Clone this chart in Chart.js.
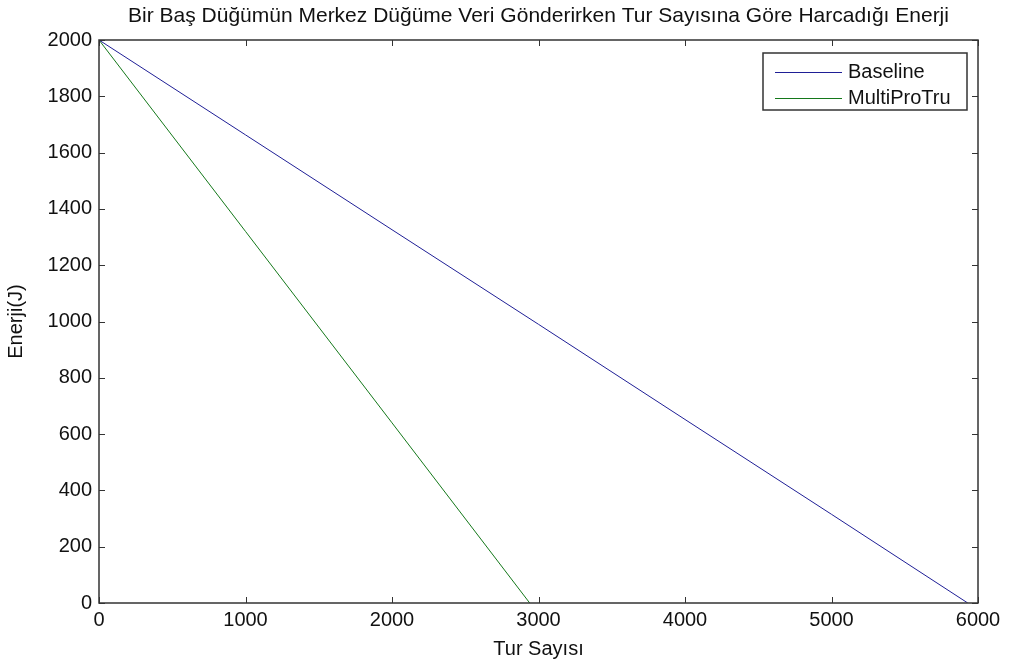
<!DOCTYPE html>
<html>
<head>
<meta charset="utf-8">
<script src="https://cdn.jsdelivr.net/npm/chart.js@4"></script>
<style>
    html, body { margin: 0; padding: 0; background: #fff; }
    #wrap { width: 1009px; height: 667px; }
</style>
</head>
<body>
<div id="wrap"><canvas id="enerji-chart" width="1009" height="667"></canvas></div>
<script>
// values
const baselineTur = [0, 1000, 2000, 3000, 4000, 5000, 5930];
const baselineEnerji = [2000, 1663, 1326, 990, 652, 315, 0];
const multiTur = [0, 1000, 2000, 2940];
const multiEnerji = [2000, 1320, 640, 0];

const seriesLabels = ['Baseline', 'MultiProTru'];
const seriesColors = ['#1f1f96', '#14781a'];

const chartTitle = 'Bir Baş Düğümün Merkez Düğüme Veri Gönderirken Tur Sayısına Göre Harcadığı Enerji';
const xTitle = 'Tur Sayısı';
const yTitle = 'Enerji(J)';

const FONT = '"Liberation Sans", Arial, sans-serif';

function toPoints (xs, ys) {
    return xs.map((x, i) => ({ x: x, y: ys[i] }));
}

// title centred over the plot area, like matlab does
const titlePlugin = {
    id: 'plotTitle',
    afterDraw (chart) {
        const { ctx, chartArea: a } = chart;
        ctx.save();
        ctx.font = '21px ' + FONT;
        ctx.fillStyle = '#111';
        ctx.textAlign = 'center';
        ctx.textBaseline = 'middle';
        ctx.fillText(chartTitle, (a.left + a.right) / 2, 16);
        ctx.restore();
    }
};

// matlab style box with inward ticks on all sides
const boxPlugin = {
    id: 'box',
    afterDatasetsDraw (chart) {
        const { ctx, chartArea: a, scales } = chart;
        ctx.save();
        ctx.strokeStyle = '#333';
        ctx.lineWidth = 1.5;
        ctx.strokeRect(a.left, a.top, a.right - a.left, a.bottom - a.top);

        const len = 6;
        ctx.lineWidth = 1;
        ctx.beginPath();
        scales.x.ticks.forEach(t => {
            const px = Math.round(scales.x.getPixelForValue(t.value)) + 0.5;
            ctx.moveTo(px, a.bottom);
            ctx.lineTo(px, a.bottom - len);
            ctx.moveTo(px, a.top);
            ctx.lineTo(px, a.top + len);
        });
        scales.y.ticks.forEach(t => {
            const py = Math.round(scales.y.getPixelForValue(t.value)) + 0.5;
            ctx.moveTo(a.left, py);
            ctx.lineTo(a.left + len, py);
            ctx.moveTo(a.right, py);
            ctx.lineTo(a.right - len, py);
        });
        ctx.stroke();
        ctx.restore();
    }
};

// legend box in the upper right corner
const legendPlugin = {
    id: 'boxLegend',
    afterDraw (chart) {
        const { ctx, chartArea: a } = chart;
        const w = 204;
        const h = 57;
        const left = a.right - 11 - w;
        const top = a.top + 13;
        ctx.save();
        ctx.fillStyle = '#fff';
        ctx.fillRect(left, top, w, h);
        ctx.strokeStyle = '#333';
        ctx.lineWidth = 1.5;
        ctx.strokeRect(left, top, w, h);

        ctx.font = '20px ' + FONT;
        ctx.textBaseline = 'middle';
        chart.data.datasets.forEach((ds, i) => {
            const y = top + 19 + i * 26;
            ctx.strokeStyle = ds.borderColor;
            ctx.lineWidth = 1;
            ctx.beginPath();
            ctx.moveTo(left + 12, y + 0.5);
            ctx.lineTo(left + 79, y + 0.5);
            ctx.stroke();
            ctx.fillStyle = '#111';
            ctx.fillText(ds.label, left + 85, y);
        });
        ctx.restore();
    }
};

new Chart(
    document.getElementById('enerji-chart'),
    {
        type: 'line',
        data: {
            datasets: [
                {
                    label: seriesLabels[0],
                    data: toPoints(baselineTur, baselineEnerji),
                    borderColor: seriesColors[0],
                    borderWidth: 1,
                    pointRadius: 0,
                    tension: 0
                },
                {
                    label: seriesLabels[1],
                    data: toPoints(multiTur, multiEnerji),
                    borderColor: seriesColors[1],
                    borderWidth: 1,
                    pointRadius: 0,
                    tension: 0
                }
            ]
        },
        options: {
            responsive: false,
            animation: false,
            layout: {
                padding: { left: 0, right: 31, top: 40, bottom: 0 }
            },
            plugins: {
                legend: { display: false },
                tooltip: { enabled: false },
                title: { display: false }
            },
            scales: {
                x: {
                    type: 'linear',
                    min: 0,
                    max: 6000,
                    afterFit: scale => { scale.height = 64; },
                    ticks: {
                        stepSize: 1000,
                        color: '#111',
                        padding: 5,
                        maxRotation: 0,
                        font: { family: FONT, size: 20 },
                        callback: value => String(value)
                    },
                    grid: { drawOnChartArea: false, drawTicks: false },
                    border: { display: false },
                    title: {
                        display: true,
                        text: xTitle,
                        color: '#111',
                        padding: { top: 0, bottom: 6 },
                        font: { family: FONT, size: 20 }
                    }
                },
                y: {
                    type: 'linear',
                    min: 0,
                    max: 2000,
                    afterFit: scale => { scale.width = 99; },
                    ticks: {
                        stepSize: 200,
                        color: '#111',
                        padding: 7,
                        font: { family: FONT, size: 20 },
                        callback: value => String(value)
                    },
                    grid: { drawOnChartArea: false, drawTicks: false },
                    border: { display: false },
                    title: {
                        display: true,
                        text: yTitle,
                        color: '#111',
                        padding: { top: 4, bottom: 0 },
                        font: { family: FONT, size: 20 }
                    }
                }
            }
        },
        plugins: [titlePlugin, boxPlugin, legendPlugin]
    }
);
</script>
</body>
</html>
